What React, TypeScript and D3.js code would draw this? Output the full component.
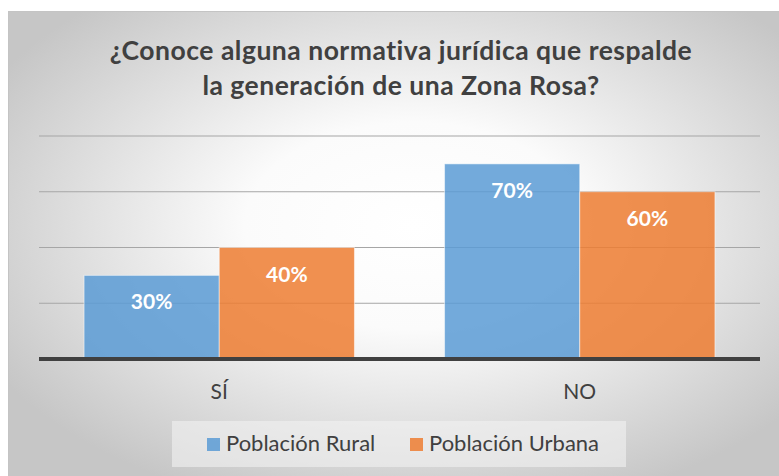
import React from "react";
import * as d3 from "d3";

const categories = ["SÍ", "NO"];
const seriesNames = ["Población Rural", "Población Urbana"];
const rural = [30, 70];
const urbana = [40, 60];
const yTicks = [0, 20, 40, 60, 80];
const titleLines = [
  "¿Conoce alguna normativa jurídica que respalde",
  "la generación de una Zona Rosa?",
];
const colors = ["#5b9bd5", "#ed7d31"];

export default function App() {
  const W = 779;
  const H = 476;
  const plot = { left: 39, right: 760, top: 136, bottom: 359 };
  const x0 = d3
    .scaleBand<string>()
    .domain(categories)
    .range([plot.left, plot.right])
    .paddingInner(0.25)
    .paddingOuter(0.125);
  const x1 = d3
    .scaleBand<string>()
    .domain(seriesNames)
    .range([0, x0.bandwidth()])
    .padding(0);
  const y = d3.scaleLinear().domain([0, 80]).range([plot.bottom, plot.top]);
  const series = [rural, urbana];
  const font = "Lato, 'Open Sans', sans-serif";

  return (
    <svg
      width={W}
      height={H}
      style={{ position: "absolute", left: 0, top: 0, display: "block" }}
    >
      <defs>
        <radialGradient id="bg" cx="52%" cy="45%" r="62%">
          <stop offset="0%" stopColor="#ffffff" />
          <stop offset="35%" stopColor="#fbfbfb" />
          <stop offset="100%" stopColor="#c6c6c6" />
        </radialGradient>
      </defs>
      <rect x={0} y={0} width={W} height={H} fill="#ffffff" />
      <rect
        x={8.5}
        y={11.5}
        width={W}
        height={H}
        fill="url(#bg)"
        stroke="#c4c4c4"
        strokeWidth={1}
      />
      {titleLines.map((t, i) => (
        <text
          key={i}
          x={401}
          y={60 + i * 35}
          textAnchor="middle"
          fontFamily={font}
          fontWeight="bold"
          fontSize={26.5}
          letterSpacing={0.5}
          fill="#404040"
        >
          {t}
        </text>
      ))}
      {yTicks.slice(1).map((t) => (
        <line
          key={t}
          x1={plot.left}
          x2={plot.right}
          y1={y(t)}
          y2={y(t)}
          stroke="#a6a6a6"
          strokeWidth={1.2}
        />
      ))}
      {categories.map((c, ci) =>
        series.map((s, si) => {
          const bx = (x0(c) ?? 0) + (x1(seriesNames[si]) ?? 0);
          const by = y(s[ci]);
          return (
            <g key={c + si}>
              <rect
                x={bx}
                y={by}
                width={x1.bandwidth()}
                height={plot.bottom - by}
                fill={colors[si]}
                fillOpacity={0.85}
                stroke="#ffffff"
                strokeOpacity={0.5}
                strokeWidth={1}
              />
              <text
                x={bx + x1.bandwidth() / 2}
                y={by + 34}
                textAnchor="middle"
                fontFamily={font}
                fontWeight="bold"
                fontSize={21}
                fill="#ffffff"
              >
                {s[ci] + "%"}
              </text>
            </g>
          );
        })
      )}
      <line
        x1={plot.left}
        x2={plot.right}
        y1={y(0)}
        y2={y(0)}
        stroke="#404040"
        strokeWidth={4}
      />
      {categories.map((c) => (
        <text
          key={c}
          x={(x0(c) ?? 0) + x0.bandwidth() / 2}
          y={399}
          textAnchor="middle"
          fontFamily={font}
          fontSize={21}
          fill="#404040"
        >
          {c}
        </text>
      ))}
      <rect
        x={172}
        y={421}
        width={454}
        height={46}
        fill="#f2f2f2"
        fillOpacity={0.6}
      />
      {seriesNames.map((n, i) => {
        const lx = [207, 410][i];
        return (
          <g key={n}>
            <rect
              x={lx}
              y={438}
              width={13}
              height={13}
              fill={colors[i]}
              fillOpacity={0.85}
            />
            <text
              x={lx + 19}
              y={451}
              fontFamily={font}
              fontSize={22}
              fill="#404040"
            >
              {n}
            </text>
          </g>
        );
      })}
    </svg>
  );
}
